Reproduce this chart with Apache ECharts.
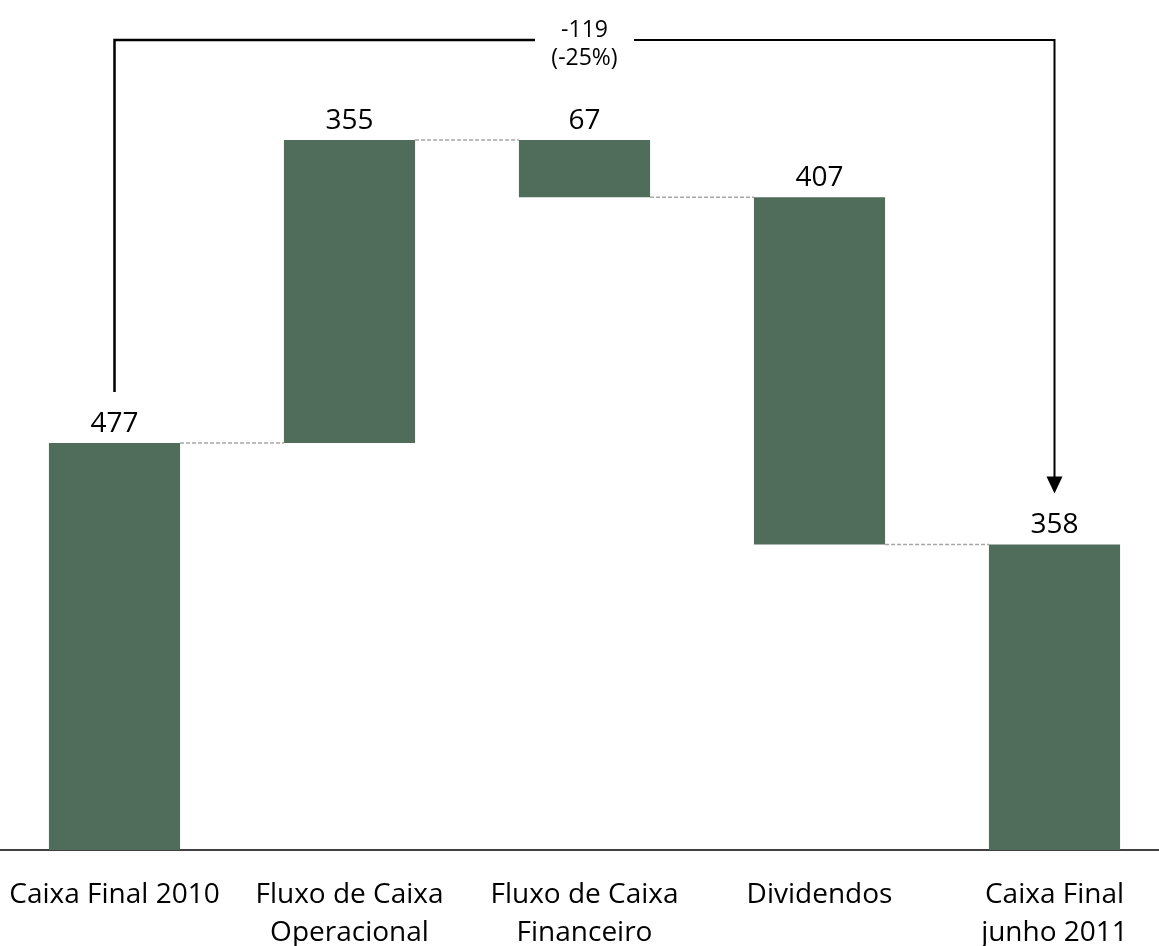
<!DOCTYPE html>
<html><head><meta charset="utf-8">
<script src="https://cdn.jsdelivr.net/npm/echarts@6/dist/echarts.min.js"></script>
<style>html,body{margin:0;padding:0;background:#fff}#c{width:1159px;height:946px}</style>
</head><body><div id="c"></div>
<script>
const categories = ['Caixa Final 2010', 'Fluxo de Caixa\nOperacional', 'Fluxo de Caixa\nFinanceiro', 'Dividendos', 'Caixa Final\njunho 2011'];
const values = [477, 355, -67, -407, 358];
const isTotal = [true, false, false, false, true];

// derived waterfall layout (from the values above)
const baseData = [], barData = [], levels = [];
let run = 0;
values.forEach((v, i) => {
  if (isTotal[i]) { baseData.push(0); barData.push(v); run = v; }
  else if (v >= 0) { baseData.push(run); barData.push(v); run += v; }
  else { run += v; baseData.push(run); barData.push(-v); }
  levels.push(run);
});
const connData = levels.slice(0, -1).map((l, i) => [i, l]);
const first = values[0], last = values[values.length - 1];
const delta = last - first;
const deltaPct = Math.round(delta / first * 100);
const deltaText = delta + '\n(' + deltaPct + '%)';

const FONT = 'Open Sans';
const BAR_FRAC = 0.558;
const chart = echarts.init(document.getElementById('c'));
chart.setOption({
  animation: false,
  backgroundColor: '#ffffff',
  grid: { left: -3, right: -13, top: 82, bottom: 96, containLabel: false, outerBoundsMode: 'none' },
  xAxis: {
    type: 'category', data: categories,
    axisTick: { show: false },
    axisLine: { lineStyle: { color: '#000', width: 1.5 } },
    axisLabel: { color: '#000', fontFamily: FONT, fontSize: 28, lineHeight: 38, margin: 26, interval: 0 }
  },
  yAxis: { type: 'value', min: 0, max: 900, show: false, splitLine: { show: false } },
  series: [
    { type: 'bar', stack: 'w', data: baseData, barWidth: (BAR_FRAC * 100) + '%',
      itemStyle: { color: 'transparent' }, silent: true },
    { type: 'bar', stack: 'w', data: barData, barWidth: (BAR_FRAC * 100) + '%',
      itemStyle: { color: '#506C5A' },
      label: { show: true, position: 'top', distance: 5, color: '#000', fontFamily: FONT, fontSize: 28,
        formatter: p => String(Math.abs(values[p.dataIndex])) } },
    { type: 'custom', data: connData, clip: false, z: 1,
      renderItem: (params, api) => {
        const i = api.value(0), lvl = api.value(1);
        const a = api.coord([i, lvl]), b = api.coord([i + 1, lvl]);
        const bw = api.size([1, 0])[0] * BAR_FRAC;
        return { type: 'line', shape: { x1: a[0] + bw / 2, y1: a[1], x2: b[0] - bw / 2, y2: b[1] },
          style: { stroke: '#a6a6a6', lineWidth: 1.5, lineDash: [4, 2] } };
      } },
    { type: 'custom', data: [[0, first, values.length - 1, last]], clip: false, z: 5,
      renderItem: (params, api) => {
        const a = api.coord([api.value(0), api.value(1)]);
        const b = api.coord([api.value(2), api.value(3)]);
        const topY = 40, off = 51, gap = 49.5;
        const mid = (a[0] + b[0]) / 2;
        const tipY = b[1] - off;
        return { type: 'group', children: [
          { type: 'polyline', shape: { points: [[a[0], a[1] - off], [a[0], topY], [mid - gap, topY]] },
            style: { stroke: '#000', lineWidth: 2.5, fill: null } },
          { type: 'polyline', shape: { points: [[mid + gap, topY], [b[0], topY], [b[0], tipY - 10]] },
            style: { stroke: '#000', lineWidth: 2, fill: null } },
          { type: 'polygon', shape: { points: [[b[0] - 8, tipY - 17], [b[0] + 8, tipY - 17], [b[0], tipY]] },
            style: { fill: '#000' } },
          { type: 'text', x: mid, y: 44, style: { text: deltaText, fill: '#000', font: '23px "Open Sans"',
            align: 'center', verticalAlign: 'middle', lineHeight: 28 } }
        ] };
      } }
  ]
});
</script></body></html>
